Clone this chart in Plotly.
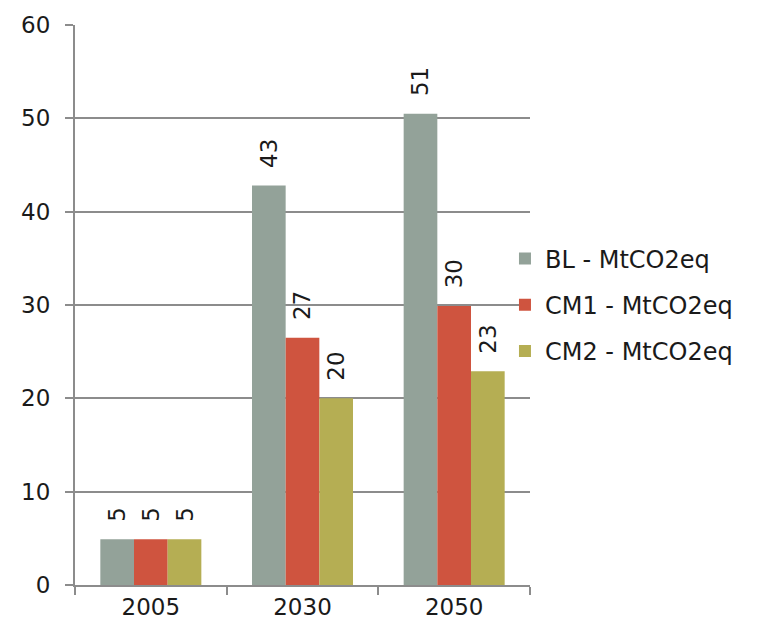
import plotly.graph_objects as go

years = ["2005", "2030", "2050"]
bl_values = [4.9, 42.8, 50.5]
cm1_values = [4.9, 26.5, 29.9]
cm2_values = [4.9, 20.0, 22.9]
series_names = ["BL - MtCO2eq", "CM1 - MtCO2eq", "CM2 - MtCO2eq"]
series_colors = ["#93A299", "#CF543F", "#B5AE53"]
y_ticks = [0, 10, 20, 30, 40, 50, 60]

FONT = "DejaVu Sans"
TEXT_COLOR = "#1a1a1a"
GRID_COLOR = "#8c8c8c"

fig = go.Figure()
for name, vals, color in zip(series_names, [bl_values, cm1_values, cm2_values], series_colors):
    fig.add_trace(go.Bar(
        x=years,
        y=vals,
        name=name,
        legendgroup=name,
        marker=dict(color=color, line=dict(width=0)),
        # non-breaking spaces keep the rotated value clear of the bar top
        texttemplate="\u00a0\u00a0%{y:.0f}",
        textposition="outside",
        textangle=-90,
        constraintext="none",
        cliponaxis=False,
        textfont=dict(family=FONT, size=23, color=TEXT_COLOR),
    ))

fig.update_layout(
    width=772,
    height=634,
    margin=dict(l=75, r=242, t=22, b=49),
    paper_bgcolor="white",
    plot_bgcolor="white",
    barmode="group",
    bargap=0.334,
    bargroupgap=0,
    font=dict(family=FONT, size=23, color=TEXT_COLOR),
    legend=dict(
        x=0.945, xanchor="left", xref="paper",
        y=0.5, yanchor="middle",
        font=dict(family=FONT, size=24, color=TEXT_COLOR),
        traceorder="grouped",
        tracegroupgap=12,
        itemwidth=30,
        bgcolor="rgba(0,0,0,0)",
    ),
    xaxis=dict(
        type="category",
        showline=True, linecolor=GRID_COLOR, linewidth=2,
        ticks="outside", tickson="boundaries", ticklen=8, tickwidth=2, tickcolor=GRID_COLOR,
        showgrid=False,
        tickfont=dict(family=FONT, size=23, color=TEXT_COLOR),
    ),
    yaxis=dict(
        range=[0, 60],
        tickvals=y_ticks,
        showline=True, linecolor=GRID_COLOR, linewidth=2,
        ticks="outside", ticklen=8, tickwidth=2, tickcolor=GRID_COLOR,
        showgrid=True, gridcolor=GRID_COLOR, gridwidth=2,
        zeroline=False,
        ticklabelstandoff=10,
        tickfont=dict(family=FONT, size=23, color=TEXT_COLOR),
    ),
)

fig.write_html("out.html")
